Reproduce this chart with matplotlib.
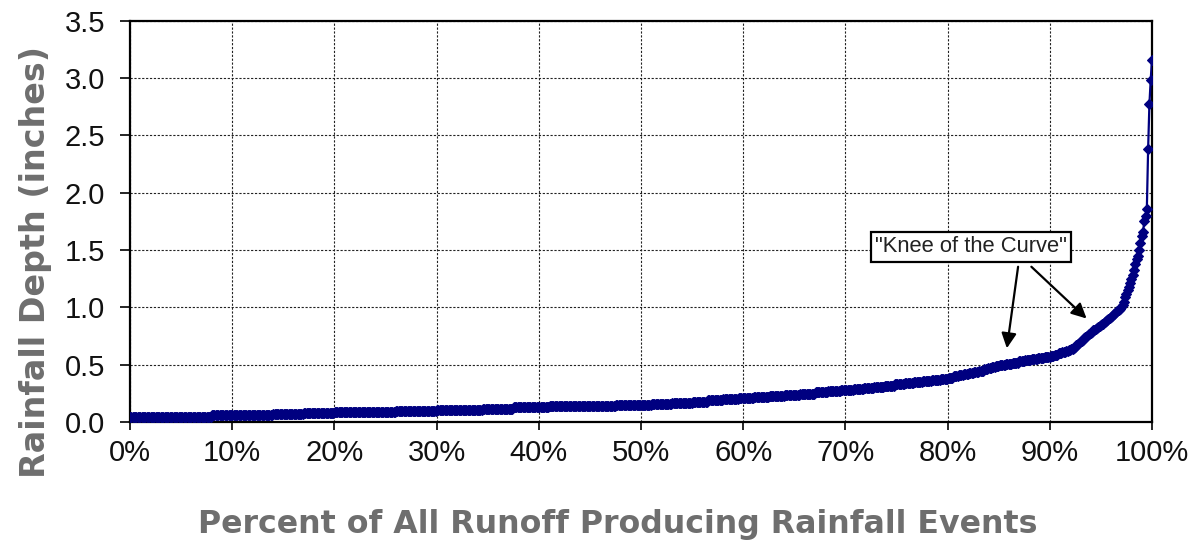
import matplotlib
matplotlib.use("Agg")
import matplotlib.pyplot as plt
import numpy as np

# ---- data: rainfall depth levels (inches) and number of events at each depth ----
depth_levels = [0.05, 0.06, 0.07, 0.08, 0.09, 0.10, 0.11, 0.12, 0.13, 0.14, 0.15,
                0.16, 0.17, 0.18, 0.19, 0.20, 0.21, 0.22, 0.23, 0.24, 0.25,
                0.26, 0.27, 0.28, 0.29, 0.30, 0.31, 0.32, 0.33, 0.34, 0.35,
                0.36, 0.37, 0.38, 0.39, 0.40, 0.41, 0.42, 0.43, 0.44, 0.45,
                0.46, 0.47, 0.48, 0.49, 0.50, 0.51, 0.52, 0.53, 0.54, 0.55,
                0.56, 0.57, 0.58, 0.59, 0.60, 0.61, 0.62, 0.63, 0.64]
event_counts = [64, 48, 24, 24, 48, 32, 36, 24, 28, 52, 28,
                16, 16, 12, 12, 12, 12, 12, 12, 12, 12,
                10, 10, 10, 8, 8, 8, 8, 8, 7, 7,
                7, 7, 6, 4, 4, 4, 4, 4, 4, 4,
                3, 3, 3, 3, 5, 5, 5, 5, 5, 5,
                5, 5, 3, 3, 3, 3, 2, 2, 2]
# largest individual events (inches)
large_events = [0.65, 0.66, 0.67, 0.68, 0.69, 0.70, 0.71, 0.72, 0.73, 0.74,
                0.75, 0.76, 0.77, 0.78, 0.79, 0.80, 0.80, 0.81, 0.82, 0.83,
                0.84, 0.85, 0.86, 0.86, 0.87, 0.88, 0.89, 0.90, 0.91, 0.92,
                0.93, 0.94, 0.95, 0.96, 0.97, 0.98, 0.99, 1.00, 1.02, 1.05,
                1.09, 1.12, 1.15, 1.18, 1.21, 1.25, 1.28, 1.33, 1.38, 1.42,
                1.45, 1.50, 1.56, 1.62, 1.66, 1.75, 1.80, 1.86, 2.38, 2.77,
                2.98, 3.16]

x_ticks = [0, 10, 20, 30, 40, 50, 60, 70, 80, 90, 100]
x_tick_labels = ["0%", "10%", "20%", "30%", "40%", "50%", "60%", "70%", "80%", "90%", "100%"]
y_ticks = [0.0, 0.5, 1.0, 1.5, 2.0, 2.5, 3.0, 3.5]
y_tick_labels = ["0.0", "0.5", "1.0", "1.5", "2.0", "2.5", "3.0", "3.5"]

annotation_text = '"Knee of the Curve"'

# sorted events -> percent rank
depths = np.concatenate([np.repeat(depth_levels, event_counts), large_events])
n = len(depths)
percent = np.arange(n) / (n - 1) * 100.0

fig = plt.figure(figsize=(11.93, 5.40), dpi=100)
ax = fig.add_axes([0.109, 0.218, 0.8566, 0.744])

navy = "#000080"
ax.plot(percent, depths, color=navy, lw=1.6, marker="D", ms=5.2,
        markeredgecolor=navy, markerfacecolor=navy, markeredgewidth=0.8, zorder=3)

ax.set_xlim(0, 100)
ax.set_ylim(0, 3.5)
ax.set_xticks(x_ticks)
ax.set_xticklabels(x_tick_labels)
ax.set_yticks(y_ticks)
ax.set_yticklabels(y_tick_labels)

for lab in ax.get_xticklabels() + ax.get_yticklabels():
    lab.set_fontfamily("Liberation Sans")
    lab.set_fontsize(21)
    lab.set_color("#111111")

ax.tick_params(axis="x", direction="out", length=6, width=1.2, pad=6, color="black")
ax.tick_params(axis="y", direction="out", length=7, width=1.2, pad=11, color="black")

ax.grid(True, color="#222222", linestyle=(0, (2, 1.5)), linewidth=0.8, zorder=0)
ax.set_axisbelow(True)
for sp in ax.spines.values():
    sp.set_linewidth(1.6)
    sp.set_color("black")

label_gray = "#6e6e6e"
ax.set_xlabel("Percent of All Runoff Producing Rainfall Events",
              family="DejaVu Sans", weight="bold", size=22.8, color=label_gray,
              labelpad=30, x=0.4775)
ax.set_ylabel("Rainfall Depth (inches)",
              family="DejaVu Sans", weight="bold", size=24, color=label_gray,
              labelpad=9, y=0.40)

# annotation box and arrows
ax.text(82.3, 1.53, annotation_text, ha="center", va="center",
        family="Liberation Sans", size=15.8, color="#222222", zorder=5,
        bbox=dict(boxstyle="square,pad=0.2", facecolor="white", edgecolor="black", linewidth=1.6))
arrow_kw = dict(arrowstyle="-|>,head_length=0.9,head_width=0.45", color="black", lw=1.6,
                shrinkA=0, shrinkB=0)
ax.annotate("", xy=(85.8, 0.645), xytext=(86.9, 1.355), arrowprops=arrow_kw, zorder=5)
ax.annotate("", xy=(93.6, 0.904), xytext=(88.2, 1.355), arrowprops=arrow_kw, zorder=5)

fig.savefig("out.png", dpi=100)
